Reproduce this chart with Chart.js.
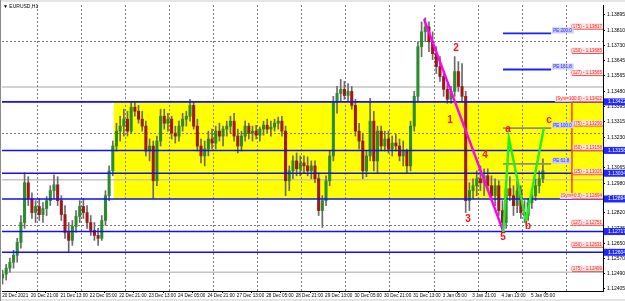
<!DOCTYPE html>
<html>
<head>
<meta charset="utf-8">
<title>EURUSD,H1</title>
<script src="https://cdn.jsdelivr.net/npm/chart.js@4.4.1/dist/chart.umd.min.js"></script>
<style>
  html, body { margin: 0; padding: 0; background: #fff; overflow: hidden; }
</style>
</head>
<body>
<canvas id="chart" width="625" height="301"></canvas>
<script>
// time axis labels, one every 16 hourly bars
var timeLabels = ['20 Dec 2021', '20 Dec 21:00', '21 Dec 13:00', '22 Dec 05:00', '22 Dec 21:00', '23 Dec 13:00',
  '24 Dec 05:00', '24 Dec 21:00', '27 Dec 13:00', '28 Dec 05:00', '28 Dec 21:00', '29 Dec 13:00', '30 Dec 05:00',
  '30 Dec 21:00', '31 Dec 13:00', '3 Jan 05:00', '3 Jan 21:00', '4 Jan 13:00', '5 Jan 05:00'];

// price data, one candle per two hourly bars
var opens = [1.12464,1.12485,1.12518,1.12550,1.12588,1.12658,1.12766,1.12982,1.12896,1.12820,
  1.12853,1.12809,1.12842,1.12885,1.12939,1.12971,1.12885,1.12809,1.12712,1.12669,
  1.12745,1.12799,1.12853,1.12820,1.12766,1.12723,1.12696,1.12680,1.12777,1.12912,
  1.13047,1.13182,1.13263,1.13290,1.13328,1.13263,1.13393,1.13371,1.13328,1.13290,
  1.13155,1.13182,1.12993,1.13209,1.13344,1.13306,1.13328,1.13252,1.13236,1.13290,
  1.13328,1.13344,1.13403,1.13290,1.13182,1.13128,1.13166,1.13220,1.13198,1.13263,
  1.13236,1.13274,1.13290,1.13317,1.13236,1.13182,1.13236,1.13290,1.13252,1.13263,
  1.13241,1.13274,1.13295,1.13274,1.13285,1.13306,1.13317,1.13263,1.12993,1.13047,
  1.13101,1.13058,1.13090,1.13074,1.13047,1.13074,1.13004,1.12831,1.12885,1.12993,
  1.13128,1.13425,1.13468,1.13490,1.13457,1.13479,1.13403,1.13263,1.13209,1.13047,
  1.13128,1.13317,1.13101,1.13263,1.13182,1.13220,1.13166,1.13198,1.13182,1.13128,
  1.13155,1.13074,1.13290,1.13452,1.13722,1.13803,1.13830,1.13749,1.13684,1.13614,
  1.13560,1.13490,1.13436,1.13479,1.13587,1.13506,1.13452,1.12885,1.12939,1.12966,
  1.13004,1.12982,1.13020,1.12966,1.12912,1.12966,1.12831,1.12766,1.12950,1.12912,
  1.12858,1.12939,1.12820,1.12804,1.12874,1.12912,1.12966,1.13004];
var highs = [1.12507,1.12539,1.12572,1.12615,1.12680,1.12804,1.13036,1.13015,1.12928,1.12885,
  1.12896,1.12874,1.12907,1.12966,1.13025,1.13015,1.12912,1.12858,1.12766,1.12777,
  1.12831,1.12885,1.12896,1.12858,1.12804,1.12766,1.12734,1.12804,1.12939,1.13074,
  1.13209,1.13306,1.13344,1.13382,1.13371,1.13425,1.13425,1.13403,1.13371,1.13317,
  1.13220,1.13209,1.13236,1.13382,1.13382,1.13360,1.13344,1.13290,1.13317,1.13360,
  1.13371,1.13436,1.13425,1.13328,1.13220,1.13209,1.13263,1.13274,1.13290,1.13306,
  1.13290,1.13317,1.13344,1.13360,1.13274,1.13263,1.13317,1.13306,1.13290,1.13295,
  1.13285,1.13317,1.13328,1.13317,1.13328,1.13339,1.13344,1.13290,1.13074,1.13128,
  1.13144,1.13128,1.13128,1.13123,1.13101,1.13101,1.13036,1.12912,1.13020,1.13155,
  1.13452,1.13506,1.13544,1.13533,1.13522,1.13506,1.13436,1.13306,1.13252,1.13155,
  1.13441,1.13371,1.13290,1.13290,1.13263,1.13263,1.13236,1.13247,1.13220,1.13209,
  1.13166,1.13317,1.13479,1.13749,1.13857,1.13879,1.13857,1.13803,1.13722,1.13668,
  1.13587,1.13522,1.13506,1.13668,1.13641,1.13630,1.13479,1.12982,1.13004,1.13047,
  1.13074,1.13058,1.13058,1.13020,1.13004,1.12993,1.12885,1.12993,1.13015,1.12966,
  1.12993,1.12966,1.12885,1.12896,1.12950,1.13004,1.13047,1.13112];
var lows = [1.12431,1.12453,1.12496,1.12518,1.12550,1.12626,1.12734,1.12858,1.12788,1.12766,
  1.12777,1.12766,1.12804,1.12858,1.12896,1.12858,1.12777,1.12680,1.12604,1.12642,
  1.12712,1.12766,1.12788,1.12734,1.12696,1.12669,1.12642,1.12669,1.12750,1.12885,
  1.13020,1.13155,1.13209,1.13236,1.13236,1.13252,1.13344,1.13306,1.13263,1.13128,
  1.13101,1.12896,1.12966,1.13182,1.13274,1.13263,1.13220,1.13198,1.13209,1.13263,
  1.13290,1.13317,1.13274,1.13155,1.13090,1.13074,1.13128,1.13166,1.13166,1.13209,
  1.13182,1.13236,1.13252,1.13209,1.13144,1.13155,1.13209,1.13220,1.13209,1.13220,
  1.13209,1.13241,1.13252,1.13236,1.13263,1.13274,1.13236,1.12912,1.12939,1.13004,
  1.13020,1.13020,1.13036,1.13020,1.13004,1.12982,1.12804,1.12739,1.12858,1.12966,
  1.13101,1.13360,1.13425,1.13436,1.13425,1.13382,1.13236,1.13166,1.13004,1.13015,
  1.13101,1.13047,1.13036,1.13155,1.13155,1.13144,1.13128,1.13155,1.13101,1.13074,
  1.13036,1.13047,1.13263,1.13425,1.13668,1.13749,1.13695,1.13652,1.13576,1.13533,
  1.13452,1.13414,1.13414,1.13452,1.13479,1.13425,1.12820,1.12831,1.12896,1.12912,
  1.12939,1.12912,1.12939,1.12885,1.12858,1.12804,1.12712,1.12734,1.12885,1.12804,
  1.12820,1.12788,1.12766,1.12777,1.12842,1.12885,1.12928,1.12982];
var closes = [1.12485,1.12518,1.12550,1.12588,1.12658,1.12766,1.12982,1.12896,1.12820,1.12853,
  1.12809,1.12842,1.12885,1.12939,1.12971,1.12885,1.12809,1.12712,1.12669,1.12745,
  1.12799,1.12853,1.12820,1.12766,1.12723,1.12696,1.12680,1.12777,1.12912,1.13047,
  1.13182,1.13263,1.13290,1.13328,1.13263,1.13393,1.13371,1.13328,1.13290,1.13155,
  1.13182,1.12993,1.13209,1.13344,1.13306,1.13328,1.13252,1.13236,1.13290,1.13328,
  1.13344,1.13403,1.13290,1.13182,1.13128,1.13166,1.13220,1.13198,1.13263,1.13236,
  1.13274,1.13290,1.13317,1.13236,1.13182,1.13236,1.13290,1.13252,1.13263,1.13241,
  1.13274,1.13295,1.13274,1.13285,1.13306,1.13317,1.13263,1.12993,1.13047,1.13101,
  1.13058,1.13090,1.13074,1.13047,1.13074,1.13004,1.12831,1.12885,1.12993,1.13128,
  1.13425,1.13468,1.13490,1.13457,1.13479,1.13403,1.13263,1.13209,1.13047,1.13128,
  1.13317,1.13101,1.13263,1.13182,1.13220,1.13166,1.13198,1.13182,1.13128,1.13155,
  1.13074,1.13290,1.13452,1.13722,1.13803,1.13830,1.13749,1.13684,1.13614,1.13560,
  1.13490,1.13436,1.13479,1.13587,1.13506,1.13452,1.12885,1.12939,1.12966,1.13004,
  1.12982,1.13020,1.12966,1.12912,1.12966,1.12831,1.12766,1.12950,1.12912,1.12858,
  1.12939,1.12820,1.12804,1.12874,1.12912,1.12966,1.13004,1.13047];

// right price scale labels
var yTicks = [1.13895, 1.13810, 1.13730, 1.13645, 1.13565, 1.13480, 1.13395, 1.13315, 1.13230, 1.13150,
  1.13065, 1.12980, 1.12900, 1.12820, 1.12735, 1.12650, 1.12570, 1.12490, 1.12405];

// horizontal lines and the zone
var levelPrices = [1.13422, 1.13158, 1.13034, 1.12894, 1.12717, 1.12604];
var silverPrices = [1.13503, 1.12999, 1.12495];
var zoneTop = 1.13422, zoneBottom = 1.12894, zoneStartBar = 61;

// fibo expansion
var fiboNames = ['(175)', '(150)', '(127)', '(Sym=100.0)', '(75)', '(50)', '(25)', '(Sym=0.0)', '(127)', '(150)', '(175)'];
var fiboPrices = [1.13817, 1.13685, 1.13565, 1.13422, 1.13290, 1.13158, 1.13026, 1.12894, 1.12751, 1.12631, 1.12499];
var fiboBar = 310.3;

// PE projection levels
var peNames = ['PE 200.0', 'PE 161.8', 'PE 100.0', 'PE 61.8'];
var pePrices = [1.13794, 1.13598, 1.13279, 1.13085];
var peFromBar = 272.8, peToBar = 299;

// wave lines and marks
var impulseBars = [230, 273];
var impulsePrices = [1.13868, 1.12717];
var abcBars = [273, 276, 285.3, 295];
var abcPrices = [1.12717, 1.13225, 1.12772, 1.13279];
var waveNames = ['1', '2', '3', '4', '5', 'a', 'b', 'c'];
var waveBars = [244, 247.2, 253.8, 263, 272.8, 275.5, 286.4, 297.8];
var wavePrices = [1.13322, 1.13711, 1.12782, 1.13133, 1.12685, 1.13274, 1.12745, 1.13322];

// grid
var gridBars = [19, 43, 67, 91, 115, 139, 163, 187, 211, 235, 259, 283, 307];
var gridPrices = [1.13754, 1.13252, 1.12750];

var FONT = '"Liberation Sans", Arial, sans-serif';

var wickData = [], bodyData = [], bodyColors = [];
for (var i = 0; i < closes.length; i++) {
  var bar = i * 2 + 0.5;
  wickData.push({x: bar, y: [lows[i], highs[i]]});
  bodyData.push({x: bar, y: [opens[i], closes[i]]});
  bodyColors.push(closes[i] >= opens[i] ? '#2a8c2a' : '#a01818');
}

function hline(ctx, x1, x2, y) {
  ctx.beginPath(); ctx.moveTo(x1, y); ctx.lineTo(x2, y); ctx.stroke();
}

var overlay = {
  id: 'overlay',
  beforeDatasetsDraw: function(chart) {
    var ctx = chart.ctx, a = chart.chartArea, x = chart.scales.x, y = chart.scales.y;
    ctx.save();
    // yellow zone
    var zx = x.getPixelForValue(zoneStartBar);
    var zt = y.getPixelForValue(zoneTop), zb = y.getPixelForValue(zoneBottom);
    ctx.fillStyle = '#ffff00';
    ctx.fillRect(zx, zt, a.right - zx, zb - zt);
    // silver lines
    ctx.strokeStyle = '#c4c4c4';
    ctx.lineWidth = 1.5;
    silverPrices.forEach(function(p) { hline(ctx, a.left, a.right, y.getPixelForValue(p)); });
    // dotted grid
    ctx.strokeStyle = '#7a7a7a';
    ctx.lineWidth = 1;
    ctx.setLineDash([2, 2]);
    gridBars.forEach(function(b) {
      var gx = Math.round(x.getPixelForValue(b)) + 0.5;
      ctx.beginPath(); ctx.moveTo(gx, a.top); ctx.lineTo(gx, a.bottom); ctx.stroke();
    });
    gridPrices.forEach(function(p) {
      hline(ctx, a.left, a.right, Math.round(y.getPixelForValue(p)) + 0.5);
    });
    ctx.restore();
  },
  afterDatasetsDraw: function(chart) {
    var ctx = chart.ctx, a = chart.chartArea, x = chart.scales.x, y = chart.scales.y;
    ctx.save();
    // blue levels
    ctx.strokeStyle = '#1010f0';
    ctx.lineWidth = 1.6;
    levelPrices.forEach(function(p) { hline(ctx, a.left, a.right, y.getPixelForValue(p)); });

    // fibo
    var fx = x.getPixelForValue(fiboBar);
    ctx.strokeStyle = '#ff3c10';
    ctx.lineWidth = 1.5;
    ctx.beginPath();
    ctx.moveTo(fx, y.getPixelForValue(zoneTop));
    ctx.lineTo(fx, y.getPixelForValue(zoneBottom));
    ctx.stroke();
    ctx.font = '4.5px ' + FONT;
    ctx.textAlign = 'right';
    ctx.textBaseline = 'bottom';
    fiboNames.forEach(function(n, k) {
      var fy = y.getPixelForValue(fiboPrices[k]);
      var txt = n + ' - ' + fiboPrices[k].toFixed(5);
      var w = ctx.measureText(txt).width;
      ctx.fillStyle = 'rgba(255,226,226,0.9)';
      ctx.fillRect(a.right - w - 2, fy - 6, w + 2, 6);
      ctx.strokeStyle = '#ff5050';
      ctx.lineWidth = 1;
      hline(ctx, fx, a.right, fy);
      ctx.fillStyle = '#ff2020';
      ctx.fillText(txt, a.right - 1, fy - 0.5);
    });

    // PE levels
    var px1 = x.getPixelForValue(peFromBar), px2 = x.getPixelForValue(peToBar);
    ctx.textAlign = 'left';
    peNames.forEach(function(n, k) {
      var py = y.getPixelForValue(pePrices[k]);
      ctx.strokeStyle = k < 2 ? '#1e1eff' : '#8c8c8c';
      ctx.lineWidth = 1.8;
      hline(ctx, px1, px2, py);
      var w = ctx.measureText(n).width;
      ctx.fillStyle = '#c8ccff';
      ctx.fillRect(px2 + 1, py - 6, w + 3, 6);
      ctx.fillStyle = '#2a2aff';
      ctx.fillText(n, px2 + 2, py - 0.5);
    });

    // wave lines
    ctx.lineCap = 'round';
    ctx.strokeStyle = '#ff00ff';
    ctx.lineWidth = 2.4;
    ctx.beginPath();
    impulseBars.forEach(function(b, k) {
      var X = x.getPixelForValue(b), Y = y.getPixelForValue(impulsePrices[k]);
      if (k === 0) ctx.moveTo(X, Y); else ctx.lineTo(X, Y);
    });
    ctx.stroke();
    ctx.strokeStyle = '#22ee22';
    ctx.beginPath();
    abcBars.forEach(function(b, k) {
      var X = x.getPixelForValue(b), Y = y.getPixelForValue(abcPrices[k]);
      if (k === 0) ctx.moveTo(X, Y); else ctx.lineTo(X, Y);
    });
    ctx.stroke();

    // wave marks
    ctx.fillStyle = '#ff1010';
    ctx.font = 'bold 10px ' + FONT;
    ctx.textAlign = 'center';
    ctx.textBaseline = 'middle';
    waveNames.forEach(function(n, k) {
      ctx.fillText(n, x.getPixelForValue(waveBars[k]), y.getPixelForValue(wavePrices[k]));
    });
    ctx.restore();
  },
  afterDraw: function(chart) {
    var ctx = chart.ctx, a = chart.chartArea, y = chart.scales.y;
    ctx.save();
    // highlighted prices on the axis
    ctx.font = '5px ' + FONT;
    ctx.textAlign = 'left';
    ctx.textBaseline = 'middle';
    levelPrices.forEach(function(p) {
      var ly = y.getPixelForValue(p);
      ctx.fillStyle = '#1e28ff';
      ctx.fillRect(a.right + 1, ly - 3.5, chart.width - a.right - 1, 7);
      ctx.fillStyle = '#ffffff';
      ctx.fillText(p.toFixed(5), a.right + 5, ly);
    });
    // window frame and caption
    ctx.fillStyle = '#e4e4e4';
    ctx.fillRect(0, 0, chart.width, 2);
    ctx.fillRect(0, chart.height - 2, chart.width, 2);
    ctx.fillStyle = '#8a8a8a';
    ctx.fillRect(0, 0, 1, chart.height);
    ctx.fillStyle = '#000';
    ctx.font = '5px ' + FONT;
    ctx.fillText('\u25BC EURUSD,H1', 3, 6.5);
    ctx.restore();
  }
};

new Chart(document.getElementById('chart'), {
  type: 'bar',
  data: {
    datasets: [
      { label: 'wick', data: wickData, backgroundColor: '#6a6a6a', barThickness: 1, grouped: false, order: 1 },
      { label: 'body', data: bodyData, backgroundColor: bodyColors, barThickness: 2.4, minBarLength: 1, grouped: false, order: 0 }
    ]
  },
  options: {
    responsive: false,
    animation: false,
    devicePixelRatio: 1,
    layout: { padding: { left: 2, top: 3, right: 0, bottom: 0 } },
    plugins: { legend: { display: false }, tooltip: { enabled: false } },
    scales: {
      x: {
        type: 'linear', min: 0.22, max: 327.2, offset: false,
        grid: { drawOnChartArea: false, tickLength: 2, color: '#000' },
        border: { color: '#000' },
        afterBuildTicks: function(s) { s.ticks = timeLabels.map(function(t, k) { return { value: Math.max(k * 16, 0.3) }; }); },
        afterFit: function(s) { s.height = 10; },
        ticks: {
          autoSkip: false, maxRotation: 0, align: 'start', padding: 0, color: '#000',
          font: { size: 4.6, family: FONT },
          callback: function(v, idx) { return timeLabels[idx]; }
        }
      },
      y: {
        position: 'right', min: 1.123936, max: 1.139488,
        grid: { drawOnChartArea: false, tickLength: 2, color: '#000' },
        border: { color: '#000' },
        afterBuildTicks: function(s) { s.ticks = yTicks.map(function(v) { return { value: v }; }); },
        afterFit: function(s) { s.width = 22; },
        ticks: {
          autoSkip: false, padding: 2, color: '#000',
          font: { size: 5, family: FONT },
          callback: function(v) { return Number(v).toFixed(5); }
        }
      }
    }
  },
  plugins: [overlay]
});
</script>
</body>
</html>
